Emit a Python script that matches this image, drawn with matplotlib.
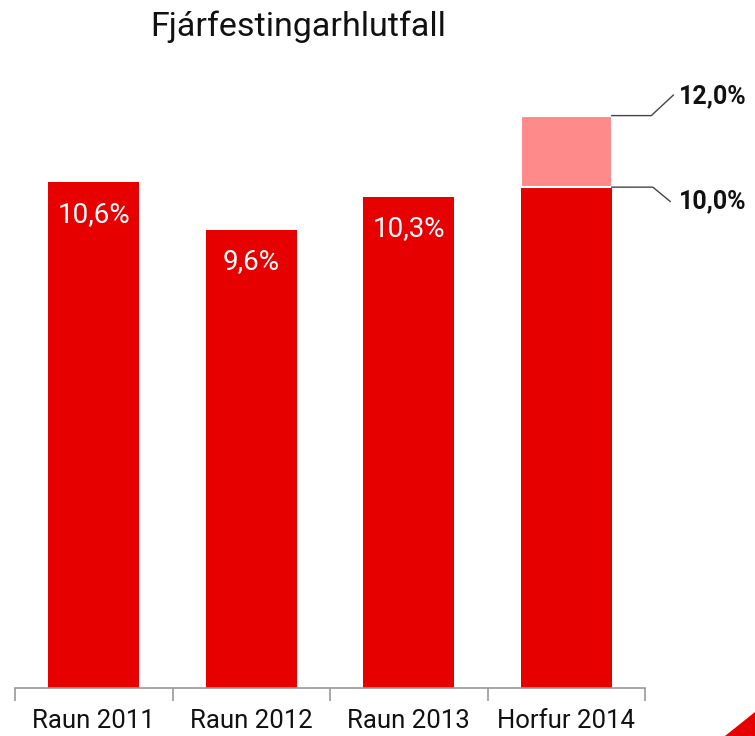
import matplotlib.pyplot as plt
from matplotlib.patches import Polygon

plt.rcParams['font.family'] = ['Roboto', 'DejaVu Sans']

categories = ['Raun 2011', 'Raun 2012', 'Raun 2013', 'Horfur 2014']
heights = [10.6, 9.6, 10.3, 10.5]          # drawn bar heights
labels = ['10,6%', '9,6%', '10,3%', None]
outlook_low_label = '10,0%'
outlook_high = 12.0
outlook_high_label = '12,0%'

red = '#e60000'
pink = '#ff8a8a'

fig = plt.figure(figsize=(7.55, 7.36), dpi=100)
ax = fig.add_axes([15 / 755, 48 / 736, 630 / 755, 14 * 47.7 / 736])

x = range(len(categories))
w = 0.578
ax.bar(x, heights, width=w, color=red, edgecolor='none')
ax.bar(3, outlook_high - heights[3], bottom=heights[3], width=w, color=pink, edgecolor='white', linewidth=1.5)

for i, lab in enumerate(labels):
    if lab:
        ax.annotate(lab, (i, heights[i]), xytext=(0, -23), textcoords='offset points',
                    ha='center', va='center', color='white', fontsize=20)

# leader lines for the outlook range
xr = 3 + w / 2
ax.plot([xr, 3.54, 3.68], [outlook_high, outlook_high, 12.43], color='#444444', lw=1, clip_on=False)
ax.plot([xr, 3.55, 3.66], [heights[3], heights[3], 10.2], color='#444444', lw=1, clip_on=False)
ax.text(3.715, 12.4, outlook_high_label, ha='left', va='center', fontsize=18, fontweight='bold', color='#111111')
ax.text(3.715, 10.2, outlook_low_label, ha='left', va='center', fontsize=18, fontweight='bold', color='#111111')

ax.set_xlim(-0.5, 3.5)
ax.set_ylim(0, 14)
for s in ['top', 'right', 'left']:
    ax.spines[s].set_visible(False)
ax.spines['bottom'].set_color('#999999')
ax.spines['bottom'].set_linewidth(1.2)
ax.set_yticks([])
ax.set_xticks(list(x))
ax.set_xticklabels(categories, fontsize=18.5, color='#111111')
ax.tick_params(axis='x', which='major', length=0, pad=15)
ax.set_xticks([-0.5, 0.5, 1.5, 2.5, 3.5], minor=True)
ax.tick_params(axis='x', which='minor', length=9, width=1.2, color='#999999')

fig.text(298 / 755, 1 - 27 / 736, 'Fjárfestingarhlutfall', ha='center', va='center', fontsize=24.5, color='#111111')

# corner decoration
fig.patches.append(Polygon([[725 / 755, 0], [1, 0], [1, 24 / 736]], closed=True,
                           transform=fig.transFigure, color=red))

fig.savefig('out.png', dpi=100)
